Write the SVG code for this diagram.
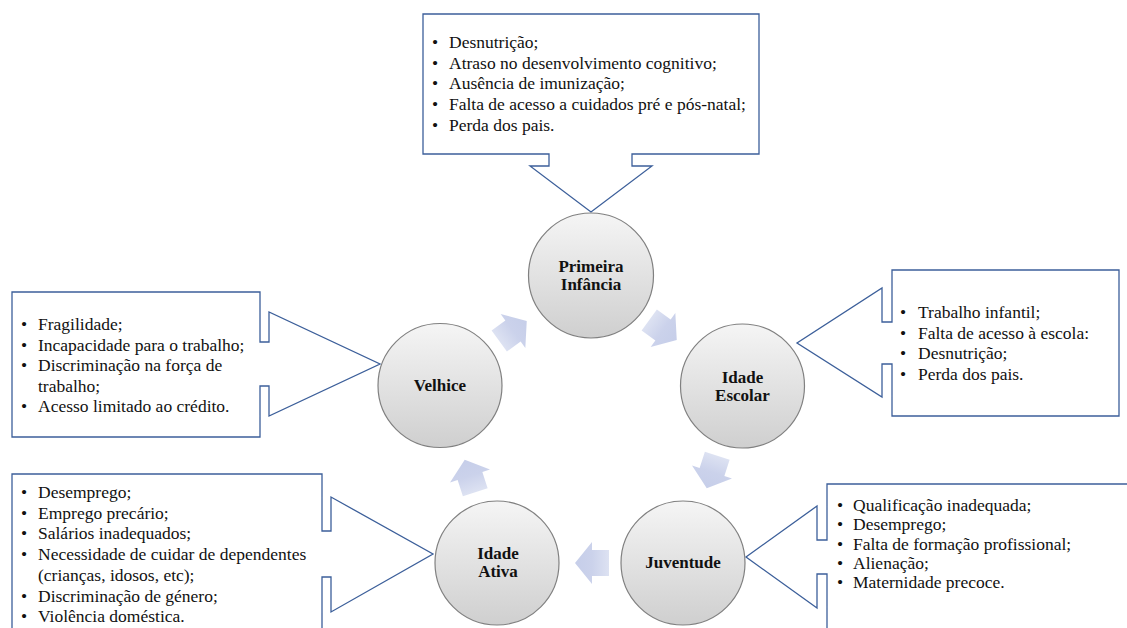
<svg xmlns="http://www.w3.org/2000/svg" width="1127" height="628" viewBox="0 0 1127 628">
<style>
.callout{fill:#ffffff;stroke:#3c5f9a;stroke-width:1.3;stroke-linejoin:miter}
.circ{fill:url(#cg);stroke:#808080;stroke-width:1.2}
.arr{fill:url(#ag)}
.t{font-family:"Liberation Serif","Times New Roman",serif;font-size:17.5px;fill:#111111}
.lbl{font-family:"Liberation Serif","Times New Roman",serif;font-size:17px;font-weight:bold;fill:#111111;text-anchor:middle}
</style>
<defs>
<linearGradient id="cg" x1="0" y1="0" x2="0" y2="1">
<stop offset="0" stop-color="#f5f5f5"/>
<stop offset="1" stop-color="#cfcfcf"/>
</linearGradient>
<linearGradient id="ag" x1="0" y1="0" x2="1" y2="0">
<stop offset="0" stop-color="#dde2f2"/>
<stop offset="0.5" stop-color="#cbd2eb"/>
<stop offset="1" stop-color="#c6cee9"/>
</linearGradient>
<path id="arrow" d="M-17,-13 H0 V-21 L17,0 L0,21 V13 H-17 Z"/>
</defs>

<g id="connectors">
<use href="#arrow" class="arr" transform="translate(513,331) rotate(-36)"/>
<use href="#arrow" class="arr" transform="translate(663,330) rotate(36)"/>
<use href="#arrow" class="arr" transform="translate(712,472) rotate(108)"/>
<use href="#arrow" class="arr" transform="translate(592,563) rotate(180)"/>
<use href="#arrow" class="arr" transform="translate(470,476) rotate(252)"/>
</g>

<g id="callout-primeira">
<path class="callout" d="M423,14 H759 V154 H632 V166 H652 L591,212 L530,166 H549 V154 H423 Z"/>
<text class="t"><tspan x="432" y="48">•</tspan><tspan x="449" y="48">Desnutrição;</tspan>
<tspan x="432" y="68.5">•</tspan><tspan x="449" y="68.5">Atraso no desenvolvimento cognitivo;</tspan>
<tspan x="432" y="89">•</tspan><tspan x="449" y="89">Ausência de imunização;</tspan>
<tspan x="432" y="110">•</tspan><tspan x="449" y="110">Falta de acesso a cuidados pré e pós-natal;</tspan>
<tspan x="432" y="131">•</tspan><tspan x="449" y="131">Perda dos pais.</tspan></text>
</g>

<g id="callout-velhice">
<path class="callout" d="M12,292 H260 V342 H269 V312 L380,364 L269,416 V386 H260 V437 H12 Z"/>
<text class="t"><tspan x="21" y="330">•</tspan><tspan x="38" y="330">Fragilidade;</tspan>
<tspan x="21" y="350.5">•</tspan><tspan x="38" y="350.5">Incapacidade para o trabalho;</tspan>
<tspan x="21" y="371">•</tspan><tspan x="38" y="371">Discriminação na força de</tspan>
<tspan x="38" y="391.5">trabalho;</tspan>
<tspan x="21" y="412">•</tspan><tspan x="38" y="412">Acesso limitado ao crédito.</tspan></text>
</g>

<g id="callout-escolar">
<path class="callout" d="M892,270 H1119 V416 H892 V364 H882 V397 L797,343 L882,288 V322 H892 Z"/>
<text class="t"><tspan x="900" y="318">•</tspan><tspan x="918" y="318">Trabalho infantil;</tspan>
<tspan x="900" y="338.5">•</tspan><tspan x="918" y="338.5">Falta de acesso à escola:</tspan>
<tspan x="900" y="359">•</tspan><tspan x="918" y="359">Desnutrição;</tspan>
<tspan x="900" y="379.5">•</tspan><tspan x="918" y="379.5">Perda dos pais.</tspan></text>
</g>

<g id="callout-ativa">
<path class="callout" d="M12,474 H322 V531 H331 V497 L433,554 L331,612 V577 H322 V640 H12 Z"/>
<text class="t"><tspan x="21" y="498">•</tspan><tspan x="38" y="498">Desemprego;</tspan>
<tspan x="21" y="518.7">•</tspan><tspan x="38" y="518.7">Emprego precário;</tspan>
<tspan x="21" y="539.4">•</tspan><tspan x="38" y="539.4">Salários inadequados;</tspan>
<tspan x="21" y="560.1">•</tspan><tspan x="38" y="560.1">Necessidade de cuidar de dependentes</tspan>
<tspan x="38" y="580.8">(crianças, idosos, etc);</tspan>
<tspan x="21" y="601.5">•</tspan><tspan x="38" y="601.5">Discriminação de género;</tspan>
<tspan x="21" y="622.2">•</tspan><tspan x="38" y="622.2">Violência doméstica.</tspan></text>
</g>

<g id="callout-juventude">
<path class="callout" d="M827,484 H1140 V640 H827 V574 H817 V608 L746,557 L817,506 V540 H827 Z"/>
<text class="t"><tspan x="837" y="511">•</tspan><tspan x="853" y="511">Qualificação inadequada;</tspan>
<tspan x="837" y="530">•</tspan><tspan x="853" y="530">Desemprego;</tspan>
<tspan x="837" y="549.5">•</tspan><tspan x="853" y="549.5">Falta de formação profissional;</tspan>
<tspan x="837" y="568.5">•</tspan><tspan x="853" y="568.5">Alienação;</tspan>
<tspan x="837" y="587.5">•</tspan><tspan x="853" y="587.5">Maternidade precoce.</tspan></text>
</g>

<g id="node-primeira">
<circle class="circ" cx="591" cy="275.5" r="62.5"/>
<text class="lbl"><tspan x="591" y="272">Primeira</tspan><tspan x="591" y="290">Infância</tspan></text>
</g>
<g id="node-escolar">
<circle class="circ" cx="742.5" cy="386" r="62"/>
<text class="lbl"><tspan x="742.5" y="383">Idade</tspan><tspan x="742.5" y="401">Escolar</tspan></text>
</g>
<g id="node-juventude">
<circle class="circ" cx="683" cy="563" r="62"/>
<text class="lbl" x="683" y="568">Juventude</text>
</g>
<g id="node-ativa">
<circle class="circ" cx="497" cy="563" r="62"/>
<text class="lbl"><tspan x="498" y="559">Idade</tspan><tspan x="498" y="577">Ativa</tspan></text>
</g>
<g id="node-velhice">
<circle class="circ" cx="440" cy="385.5" r="62"/>
<text class="lbl" x="440" y="391">Velhice</text>
</g>
</svg>
